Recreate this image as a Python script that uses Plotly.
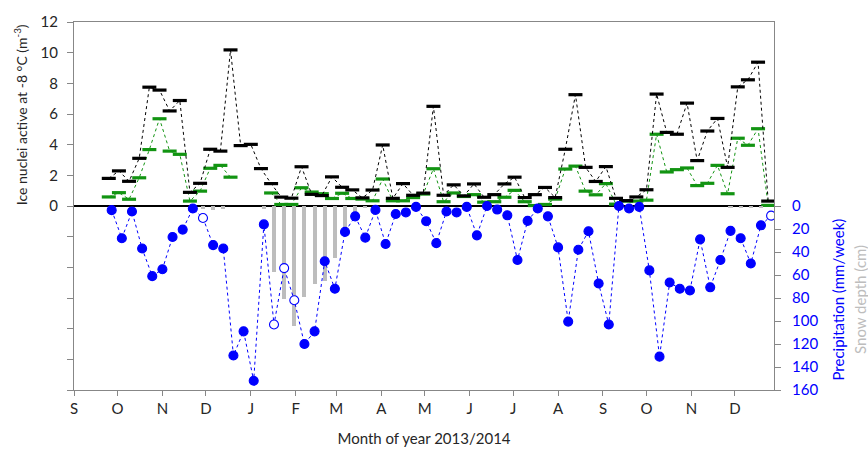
import plotly.graph_objects as go

# ---- data -------------------------------------------------------------
sample_dates = [
    "2013-09-25", "2013-10-02", "2013-10-09", "2013-10-16", "2013-10-23", "2013-10-30",
    "2013-11-06", "2013-11-13", "2013-11-20", "2013-11-27", "2013-12-04", "2013-12-11",
    "2013-12-18", "2013-12-25", "2014-01-01", "2014-01-08", "2014-01-15", "2014-01-22",
    "2014-01-29", "2014-02-05", "2014-02-12", "2014-02-19", "2014-02-26", "2014-03-05",
    "2014-03-12", "2014-03-19", "2014-03-26", "2014-04-02", "2014-04-09", "2014-04-16",
    "2014-04-23", "2014-04-30", "2014-05-07", "2014-05-14", "2014-05-21", "2014-05-28",
    "2014-06-04", "2014-06-11", "2014-06-18", "2014-06-25", "2014-07-02", "2014-07-09",
    "2014-07-16", "2014-07-23", "2014-07-30", "2014-08-06", "2014-08-13", "2014-08-20",
    "2014-08-27", "2014-09-03", "2014-09-10", "2014-09-17", "2014-09-24", "2014-10-01",
    "2014-10-08", "2014-10-15", "2014-10-22", "2014-10-29", "2014-11-05", "2014-11-12",
    "2014-11-19", "2014-11-26", "2014-12-03", "2014-12-10", "2014-12-17", "2014-12-24",
]

precip_dates = [
    "2013-09-27", "2013-10-04", "2013-10-11", "2013-10-18", "2013-10-25", "2013-11-01",
    "2013-11-08", "2013-11-15", "2013-11-22", "2013-11-29", "2013-12-06", "2013-12-13",
    "2013-12-20", "2013-12-27", "2014-01-03", "2014-01-10", "2014-01-17", "2014-01-24",
    "2014-01-31", "2014-02-07", "2014-02-14", "2014-02-21", "2014-02-28", "2014-03-07",
    "2014-03-14", "2014-03-21", "2014-03-28", "2014-04-04", "2014-04-11", "2014-04-18",
    "2014-04-25", "2014-05-02", "2014-05-09", "2014-05-16", "2014-05-23", "2014-05-30",
    "2014-06-06", "2014-06-13", "2014-06-20", "2014-06-27", "2014-07-04", "2014-07-11",
    "2014-07-18", "2014-07-25", "2014-08-01", "2014-08-08", "2014-08-15", "2014-08-22",
    "2014-08-29", "2014-09-05", "2014-09-12", "2014-09-19", "2014-09-26", "2014-10-03",
    "2014-10-10", "2014-10-17", "2014-10-24", "2014-10-31", "2014-11-07", "2014-11-14",
    "2014-11-21", "2014-11-28", "2014-12-05", "2014-12-12", "2014-12-19", "2014-12-26",
]

# ice nuclei active at -8 C (m^-3): black = total, green = second fraction
in_black = [
    1.80, 2.29, 1.61, 3.11, 7.75, 7.56, 6.20, 6.88, 0.89, 1.48, 3.70, 3.58,
    10.18, 3.94, 4.02, 2.44, 1.46, 0.58, 0.51, 2.56, 0.76, 0.68, 1.90, 1.22,
    1.05, 0.53, 1.04, 3.98, 0.50, 1.46, 0.70, 0.84, 6.50, 0.70, 1.38, 0.66,
    1.44, 0.57, 0.74, 1.44, 1.88, 0.55, 0.74, 1.21, 0.55, 3.70, 7.26, 2.52,
    1.60, 2.57, 0.50, 0.35, 0.59, 1.06, 7.30, 4.80, 4.68, 6.71, 2.96, 4.89,
    5.71, 2.52, 7.77, 8.23, 9.38, 0.32,
]
in_green = [
    0.59, 0.87, 0.44, 1.84, 3.68, 5.69, 3.58, 3.37, 0.32, 0.97, 2.46, 2.65,
    1.88, None, None, None, 0.85, 0.10, 0.10, 1.19, 0.91, 0.80, 0.49, 0.83,
    0.49, 0.45, 0.34, 1.76, 0.34, 0.34, 0.55, 0.78, 2.43, 0.28, 0.85, 0.62,
    0.74, 0.25, 0.28, 0.57, 1.02, 0.28, 0.03, 0.10, 0.45, 2.41, 2.60, 0.97,
    0.73, 1.46, 0.12, 0.32, 0.32, 0.38, 4.68, 2.22, 2.37, 2.48, 1.33, 1.48,
    2.65, 0.80, 4.42, 3.96, 5.04, 0.04,
]

# precipitation (mm/week); snow_flag = 1 marks open (snow) symbols
precip = [
    3.6, 28, 4.8, 37, 61, 55, 27, 20.5, 2.2, 10.4, 34, 37,
    130, 109, 152, 16, 103, 54, 82, 120, 109, 48, 72, 22.5,
    9, 27.5, 3.4, 33, 7, 5.6, 0.8, 13.2, 32.3, 4.8, 5.6, 0.8,
    25.5, 0, 3.1, 8.1, 47, 12.9, 2.2, 9, 36, 100.5, 38, 22,
    67.4, 103, 0, 2.2, 0.8, 56, 131, 66.5, 72, 73.5, 29, 70.7,
    47, 21.6, 28, 50, 16.8, 8.4,
]
snow_flag = [
    0, 0, 0, 0, 0, 0, 0, 0, 0, 1, 0, 0,
    0, 0, 0, 0, 1, 1, 1, 0, 0, 0, 0, 0,
    0, 0, 0, 0, 0, 0, 0, 0, 0, 0, 0, 0,
    0, 0, 0, 0, 0, 0, 0, 0, 0, 0, 0, 0,
    0, 0, 0, 0, 0, 0, 0, 0, 0, 0, 0, 0,
    0, 0, 0, 0, 0, 1,
]

# snow depth (cm)
snow_depth = [
    0, 0, 0, 0, 0, 0, 0, 0, 0, 3, 3.5, 3,
    0, 0, 0, 3, 57, 81, 104, 79, 68, 65, 45.5, 22,
    8, 2, 0, 0, 0, 0, 0, 0, 0, 0, 0, 0,
    0, 0, 0, 0, 0, 0, 0, 0, 0, 0, 0, 0,
    0, 0, 0, 0, 0, 0, 0, 0, 0, 0, 0, 0,
    0, 2, 2, 2, 2, 0,
]

month_ticks = [
    "2013-09-01", "2013-10-01", "2013-11-01", "2013-12-01", "2014-01-01", "2014-02-01",
    "2014-03-01", "2014-04-01", "2014-05-01", "2014-06-01", "2014-07-01", "2014-08-01",
    "2014-09-01", "2014-10-01", "2014-11-01", "2014-12-01",
]
month_labels = ["S", "O", "N", "D", "J", "F", "M", "A", "M", "J", "J", "A", "S", "O", "N", "D"]

left_tickvals = [0, 2, 4, 6, 8, 10, 12]
right_tickvals = [0, 20, 40, 60, 80, 100, 120, 140, 160]

# ---- styles -----------------------------------------------------------
FONT = "Lato"
BLUE = "#0000FF"
GREEN = "#129412"
GREY_BAR = "#BDBDBD"
AXIS_GREY = "#878787"
DAY_MS = 86400000

fig = go.Figure()

fig.add_trace(go.Bar(
    x=precip_dates, y=snow_depth, yaxis="y2",
    marker=dict(color=GREY_BAR, line=dict(width=0)),
    width=2.8 * DAY_MS, showlegend=False, hoverinfo="skip",
))

fig.add_trace(go.Scatter(
    x=precip_dates, y=precip, yaxis="y2", mode="lines+markers",
    line=dict(color=BLUE, width=1, dash="dot"),
    marker=dict(
        size=9, symbol="circle",
        color=["white" if f else BLUE for f in snow_flag],
        line=dict(color=BLUE, width=1.1),
    ),
    showlegend=False,
))

fig.add_trace(go.Scatter(
    x=sample_dates, y=in_green, mode="lines+markers", connectgaps=False,
    line=dict(color=GREEN, width=1, dash="dot"),
    marker=dict(symbol="line-ew", size=10, line=dict(color=GREEN, width=3.2)),
    showlegend=False,
))

fig.add_trace(go.Scatter(
    x=sample_dates, y=in_black, mode="lines+markers",
    line=dict(color="black", width=1, dash="dot"),
    marker=dict(symbol="line-ew", size=10, line=dict(color="black", width=3.2)),
    showlegend=False,
))

fig.update_layout(
    width=868, height=457,
    margin=dict(l=74, r=94, t=13, b=65),
    paper_bgcolor="white", plot_bgcolor="white",
    font=dict(family=FONT, size=15, color="#262626"),
    bargap=0,
    xaxis=dict(
        type="date", range=["2013-09-01", "2014-12-28"],
        tickvals=month_ticks, ticktext=month_labels,
        showline=True, linecolor=AXIS_GREY, linewidth=1, mirror=True,
        ticks="outside", ticklen=5, tickcolor=AXIS_GREY,
        showgrid=False, zeroline=False,
        tickfont=dict(size=15, color="#262626"),
        title=dict(text="Month of year 2013/2014", font=dict(size=15, color="#262626"), standoff=17),
    ),
    yaxis=dict(
        range=[-12, 12], tickvals=left_tickvals,
        showline=True, linecolor=AXIS_GREY, linewidth=1, mirror=True,
        ticks="outside", ticklen=6, tickcolor=AXIS_GREY,
        minor=dict(dtick=2, tick0=0, ticks="outside", ticklen=6, tickcolor=AXIS_GREY, showgrid=False),
        showgrid=False, zeroline=True, zerolinecolor="black", zerolinewidth=1.5,
        tickfont=dict(size=15, color="#262626"), ticklabelstandoff=6,
    ),
    yaxis2=dict(
        overlaying="y", side="right", range=[160, -160],
        tickvals=right_tickvals,
        showline=False, ticks="outside", ticklen=6, tickcolor=AXIS_GREY,
        showgrid=False, zeroline=False,
        tickfont=dict(size=15, color=BLUE), ticklabelstandoff=8,
    ),
    annotations=[
        dict(text="Ice nuclei active at -8 °C (m<sup>-3</sup>)", xref="paper", yref="paper",
             x=-0.077, y=0.747, xanchor="center", yanchor="middle", textangle=-90,
             showarrow=False, font=dict(size=14, color="#262626")),
        dict(text="Precipitation (mm/week)", xref="paper", yref="paper",
             x=1.091, y=0.245, xanchor="center", yanchor="middle", textangle=-90,
             showarrow=False, font=dict(size=15, color=BLUE)),
        dict(text="Snow depth (cm)", xref="paper", yref="paper",
             x=1.123, y=0.245, xanchor="center", yanchor="middle", textangle=-90,
             showarrow=False, font=dict(size=15, color=GREY_BAR)),
    ],
)

fig.write_html("out.html")
